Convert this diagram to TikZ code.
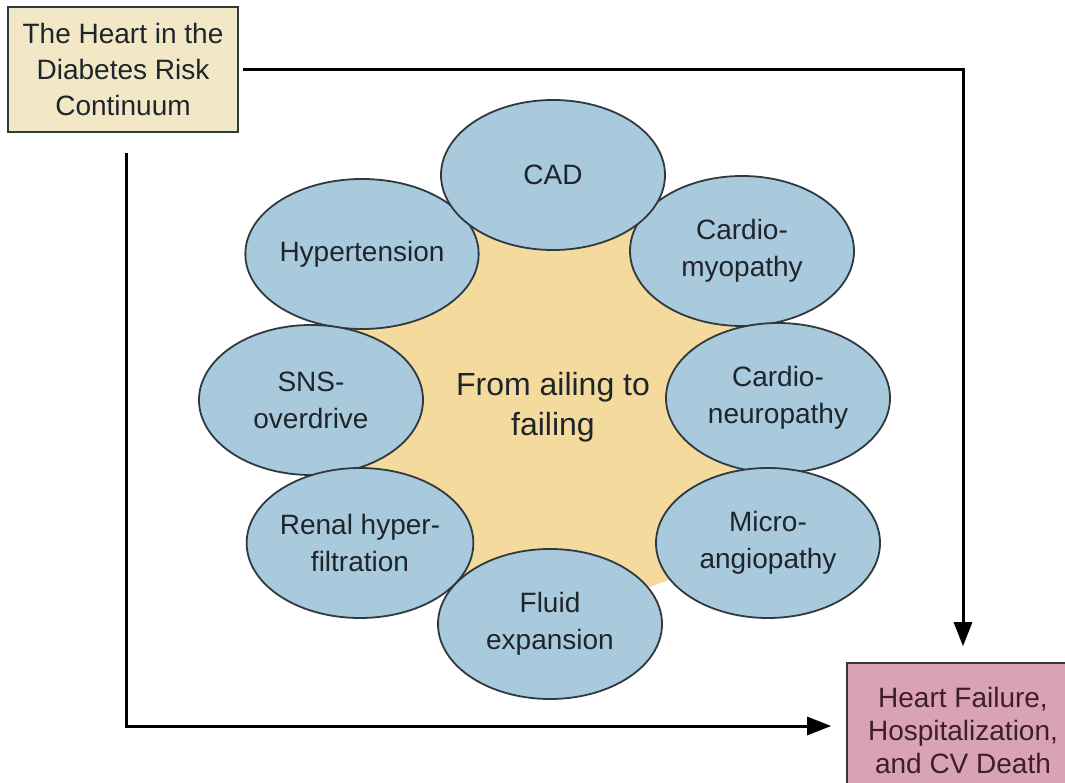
\documentclass[tikz,border=0pt]{standalone}
\usepackage{fontspec}
\setmainfont{Liberation Sans}
\usetikzlibrary{shapes.geometric,arrows.meta}
\definecolor{blob}{HTML}{A9CADD}
\definecolor{starfill}{HTML}{F4DA9C}
\definecolor{beige}{HTML}{F3E8C6}
\definecolor{pinkbox}{HTML}{D9A2B5}
\definecolor{edgec}{HTML}{2F3A40}
\definecolor{inkc}{HTML}{1E262C}
\definecolor{maroon}{HTML}{3D1F2A}
\begin{document}
\begin{tikzpicture}[x=1pt,y=-1pt,
  oval/.style={ellipse,draw=edgec,line width=1.8pt,fill=blob,minimum width=224pt,
    minimum height=150pt,inner sep=0pt,align=center,text=inkc,
    font=\fontsize{28}{37}\selectfont},
  tbox/.style={rectangle,draw=edgec,line width=1.6pt,align=center,inner sep=0pt,
    font=\fontsize{28}{36}\selectfont},
  flow/.style={line width=3pt,-{Triangle[length=24pt,width=18pt]}}]
\useasboundingbox (0,0) rectangle (1065,783);
\fill[white] (0,0) rectangle (1065,783);
% centres of the ring
\coordinate (pcad) at (553,175);
\coordinate (pcmyo) at (742,251);
\coordinate (pcneu) at (778,398);
\coordinate (pmicro) at (768,543);
\coordinate (pfluid) at (550,624);
\coordinate (prenal) at (360,543);
\coordinate (psns) at (311,400);
\coordinate (phyp) at (362,254);
\fill[starfill] (pcad) -- (pcmyo) -- (pcneu) -- (pmicro) -- (pfluid) -- (prenal) -- (psns) -- (phyp) -- cycle;
\node[font=\fontsize{32}{40}\selectfont,align=center,text=inkc] (center) at (553,407) {From ailing to\\failing};
\node[oval] (hyp) at (phyp) {Hypertension};
\node[oval] (cmyo) at (pcmyo) {Cardio-\\myopathy};
\node[oval] (sns) at (psns) {SNS-\\overdrive};
\node[oval] (cneu) at (pcneu) {Cardio-\\neuropathy};
\node[oval] (renal) at (prenal) {Renal hyper-\\filtration};
\node[oval] (micro) at (pmicro) {Micro-\\angiopathy};
\node[oval] (cad) at (pcad) {CAD};
\node[oval] (fluid) at (pfluid) {Fluid\\expansion};
% boxes
\node[tbox,fill=beige,minimum width=230pt,minimum height=125pt,text=inkc] (risk) at (123,69.5)
  {The Heart in the\\Diabetes Risk\\Continuum};
\node[tbox,fill=pinkbox,minimum width=232pt,minimum height=134pt,text=maroon,
  font=\fontsize{28}{33}\selectfont] (hf) at (963,730)
  {Heart Failure,\\Hospitalization,\\and CV Death};
% connectors
\coordinate (bend) at (126,726);
\draw[flow] ([xshift=4pt]risk.east) -| ([yshift=16pt]hf.north);
\draw[flow] ([yshift=-20pt]risk.south -| bend) -- (bend) -- ([xshift=-15pt]hf.west |- bend);
\end{tikzpicture}
\end{document}
